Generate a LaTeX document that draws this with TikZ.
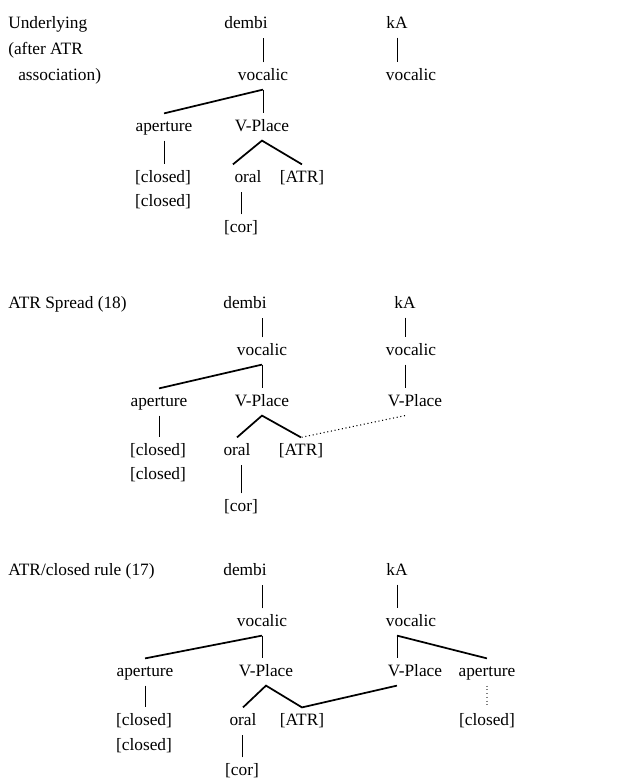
\documentclass[tikz,border=0pt]{standalone}
\usepackage{fontspec}
\setmainfont{Liberation Serif}
\usepackage{tikz}

\begin{document}
\begin{tikzpicture}[
    x=0.75pt, y=-0.75pt,
    font=\fontsize{13}{15}\selectfont,
    every node/.style={anchor=base, text height=9pt, text depth=3pt, inner xsep=1pt, inner ysep=4pt},
    title/.style={anchor=base west, inner sep=0pt},
    assoc/.style={line width=0.6pt},
    branch/.style={line width=1.3pt},
    spread/.style={line width=0.8pt, dotted},
    faint/.style={line width=0.8pt, dotted, gray},
]
\useasboundingbox (0,0) rectangle (622,778);

% Underlying
\node[title] (lab1a) at (8, 28) {Underlying};
\node[title] (lab1b) at (8, 54) {(after ATR};
\node[title] (lab1c) at (18, 80) {association)};

\node (dembi1) at (246, 28) {dembi};
\node (voc1) at (263, 80) {vocalic};
\node (ap1) at (164, 131) {aperture};
\node (vp1) at (262, 131) {V-Place};
\node (cl1a) at (163, 182) {[closed]};
\node (cl1b) at (163, 206) {[closed]};
\node (oral1) at (248, 182) {oral};
\node (atr1) at (302, 182) {[ATR]};
\node (cor1) at (241, 232) {[cor]};
\node (kA1) at (397, 28) {kA};
\node (kvoc1) at (411, 80) {vocalic};

\draw[assoc] (voc1.north) -- (voc1.north |- dembi1.south);
\draw[branch] (voc1.south) -- (ap1.north);
\draw[assoc] (voc1.south) -- (voc1.south |- vp1.north);
\draw[assoc] (ap1.south) -- (ap1.south |- cl1a.north);
\draw[branch] (oral1.north west) -- (vp1.south) -- (atr1.north);
\draw[assoc] (cor1.north) -- (cor1.north |- oral1.south);
\draw[assoc] (kA1.south) -- (kA1.south |- kvoc1.north);

% ATR Spread
\node[title] (lab2) at (8, 308) {ATR Spread (18)};

\node (dembi2) at (245, 308) {dembi};
\node (voc2) at (262, 355) {vocalic};
\node (ap2) at (159, 406) {aperture};
\node (vp2) at (262, 406) {V-Place};
\node (cl2a) at (158, 455) {[closed]};
\node (cl2b) at (158, 479) {[closed]};
\node (oral2) at (237, 455) {oral};
\node (atr2) at (301, 455) {[ATR]};
\node (cor2) at (241, 511) {[cor]};
\node (kA2) at (405, 308) {kA};
\node (kvoc2) at (411, 355) {vocalic};
\node (kvp2) at (415, 406) {V-Place};

\draw[assoc] (voc2.north) -- (voc2.north |- dembi2.south);
\draw[branch] (voc2.south) -- (ap2.north);
\draw[assoc] (voc2.south) -- (voc2.south |- vp2.north);
\draw[assoc] (ap2.south) -- (ap2.south |- cl2a.north);
\draw[branch] (oral2.north) -- (vp2.south) -- (atr2.north);
\draw[assoc] (cor2.north) -- (cor2.north |- oral2.south);
\draw[assoc] (kA2.south) -- (kA2.south |- kvoc2.north);
\draw[assoc] (kA2.south |- kvoc2.south) -- (kA2.south |- kvp2.north);
\draw[spread] (kA2.south |- kvp2.south) -- (atr2.north);

% ATR/closed rule
\node[title] (lab3) at (8, 575) {ATR/closed rule (17)};

\node (dembi3) at (245, 575) {dembi};
\node (voc3) at (262, 626) {vocalic};
\node (ap3) at (145, 676) {aperture};
\node (vp3) at (266, 676) {V-Place};
\node (cl3a) at (144, 725) {[closed]};
\node (cl3b) at (144, 750) {[closed]};
\node (oral3) at (243, 725) {oral};
\node (atr3) at (302, 725) {[ATR]};
\node (cor3) at (242, 775) {[cor]};
\node (kA3) at (397, 575) {kA};
\node (kvoc3) at (411, 626) {vocalic};
\node (kvp3) at (415, 676) {V-Place};
\node (kap3) at (487, 676) {aperture};
\node (kcl3) at (487, 725) {[closed]};

\draw[assoc] (voc3.north) -- (voc3.north |- dembi3.south);
\draw[branch] (voc3.south) -- (ap3.north);
\draw[assoc] (voc3.south) -- (voc3.south |- vp3.north);
\draw[assoc] (ap3.south) -- (ap3.south |- cl3a.north);
\draw[branch] (oral3.north) -- (vp3.south) -- (atr3.north) -- (kA3.south |- kvp3.south);
\draw[assoc] (cor3.north) -- (cor3.north |- oral3.south);
\draw[assoc] (kA3.south) -- (kA3.south |- kvoc3.north);
\draw[assoc] (kA3.south |- kvoc3.south) -- (kA3.south |- kvp3.north);
\draw[branch] (kA3.south |- kvoc3.south) -- (kap3.north);
\draw[faint] (kap3.south) -- (kcl3.north);

\end{tikzpicture}
\end{document}
